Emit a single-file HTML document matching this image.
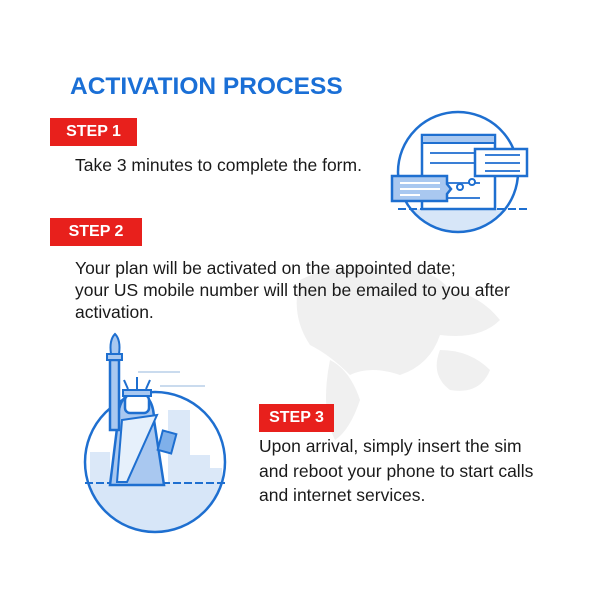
<!DOCTYPE html>
<html><head><style>
body{margin:0;width:600px;height:600px;background:#fff;position:relative;overflow:hidden;font-family:"Liberation Sans",sans-serif;}
.t{position:absolute;color:#1a1a1a;font-size:17.5px;line-height:22px;}
.s{position:absolute;background:#e8201c;color:#fff;font-weight:bold;font-size:16px;line-height:28px;text-align:center;}
</style></head><body>
<svg style="position:absolute;left:0;top:0" width="600" height="600">
<g fill="#f0f0f0">
<path d="M300 280 q40-20 90-10 q40-5 60 20 q30 5 50 30 q-20 20-60 15 q-10 30-40 40 q-30-10-50 0 q-20-20-40-30 q-20-30-10-65z"/>
<path d="M440 350 q30 0 50 20 q-10 25-40 20 q-20-15-10-40z"/>
<path d="M330 360 q20 10 30 40 q-10 30-25 40 q-15-30-5-80z"/>
</g>
<!-- circle 1 -->
<circle cx="458" cy="172" r="60" fill="#fff"/>
<path d="M411 209 H505 A60 60 0 0 1 411 209z" fill="#d7e6f8"/>
<circle cx="458" cy="172" r="60" fill="none" stroke="#1e6fd0" stroke-width="2.5"/>
<line x1="398" y1="209" x2="528" y2="209" stroke="#1e6fd0" stroke-width="2" stroke-dasharray="8 3"/>
<rect x="422" y="135" width="73" height="74" fill="#fff" stroke="#1e6fd0" stroke-width="2.5"/>
<rect x="422" y="135" width="73" height="8" fill="#a9c8f0" stroke="#1e6fd0" stroke-width="2"/>
<g stroke="#3a7fd6" stroke-width="2"><line x1="430" y1="153" x2="480" y2="153"/><line x1="430" y1="163" x2="480" y2="163"/><line x1="430" y1="183" x2="480" y2="183"/><line x1="430" y1="198" x2="480" y2="198"/></g>
<rect x="475" y="149" width="52" height="27" fill="#fff" stroke="#1e6fd0" stroke-width="2.5"/>
<g stroke="#3a7fd6" stroke-width="2"><line x1="485" y1="155" x2="520" y2="155"/><line x1="485" y1="163" x2="520" y2="163"/><line x1="485" y1="171" x2="520" y2="171"/></g>
<path d="M392 176 h55 v8 l4 5 -4 5 v7 h-55z" fill="#a9c8f0" stroke="#1e6fd0" stroke-width="2.5"/>
<g stroke="#fff" stroke-width="2"><line x1="400" y1="183" x2="440" y2="183"/><line x1="400" y1="189" x2="440" y2="189"/><line x1="400" y1="195" x2="420" y2="195"/></g>
<circle cx="460" cy="187" r="3" fill="#fff" stroke="#1e6fd0" stroke-width="2"/>
<circle cx="472" cy="182" r="3" fill="#fff" stroke="#1e6fd0" stroke-width="2"/>
<!-- circle 2 -->
<circle cx="155" cy="462" r="70" fill="#fff"/>
<path d="M88 483 H222 A70 70 0 0 1 88 483z" fill="#d7e6f8"/>
<g fill="#dbe8f8"><rect x="90" y="452" width="20" height="31"/><rect x="168" y="410" width="22" height="73"/><rect x="190" y="455" width="20" height="28"/><rect x="210" y="468" width="12" height="15"/></g>
<circle cx="155" cy="462" r="70" fill="none" stroke="#1e6fd0" stroke-width="2.5"/>
<line x1="85" y1="483" x2="228" y2="483" stroke="#1e6fd0" stroke-width="2" stroke-dasharray="8 3"/>
<path d="M118 420 q0-25 18-28 q18 3 18 28 l10 65 h-54z" fill="#a9c8f0" stroke="#1e6fd0" stroke-width="2.5"/>
<path d="M122 420 l35 -5 -30 67 h-10z" fill="#e6f0fb" stroke="#1e6fd0" stroke-width="2"/>
<rect x="110" y="360" width="9" height="70" fill="#a9c8f0" stroke="#1e6fd0" stroke-width="2.5"/>
<rect x="107" y="354" width="15" height="6" fill="#a9c8f0" stroke="#1e6fd0" stroke-width="2"/>
<path d="M111 354 q-2-14 4-20 q6 6 4 20z" fill="#a9c8f0" stroke="#1e6fd0" stroke-width="2"/>
<rect x="125" y="395" width="24" height="18" rx="5" fill="#fff" stroke="#1e6fd0" stroke-width="2.5"/>
<rect x="123" y="390" width="28" height="6" fill="#a9c8f0" stroke="#1e6fd0" stroke-width="2"/>
<g stroke="#1e6fd0" stroke-width="2"><line x1="137" y1="389" x2="137" y2="377"/><line x1="128" y1="389" x2="124" y2="380"/><line x1="146" y1="389" x2="150" y2="380"/></g>
<rect x="160" y="432" width="14" height="20" fill="#7fb0ea" stroke="#1e6fd0" stroke-width="2" transform="rotate(15 167 442)"/>
<g stroke="#b9cfe8" stroke-width="1.5"><line x1="138" y1="372" x2="180" y2="372"/><line x1="160" y1="386" x2="205" y2="386"/></g>
</svg>
<div style="position:absolute;left:70px;top:73px;color:#1a6fd6;font-weight:bold;font-size:24.5px;">ACTIVATION PROCESS</div>
<div class="s" style="left:50px;top:118px;width:87px;">STEP 1</div>
<div class="t" style="left:75px;top:154px;">Take 3 minutes to complete the form.</div>
<div class="s" style="left:50px;top:218px;width:92px;">STEP 2</div>
<div class="t" style="left:75px;top:257px;">Your plan will be activated on the appointed date;<br>your US mobile number will then be emailed to you after<br>activation.</div>
<div class="s" style="left:259px;top:404px;width:75px;">STEP 3</div>
<div class="t" style="left:259px;top:434px;line-height:24.5px;">Upon arrival, simply insert the sim<br>and reboot your phone to start calls<br>and internet services.</div>
</body></html>
